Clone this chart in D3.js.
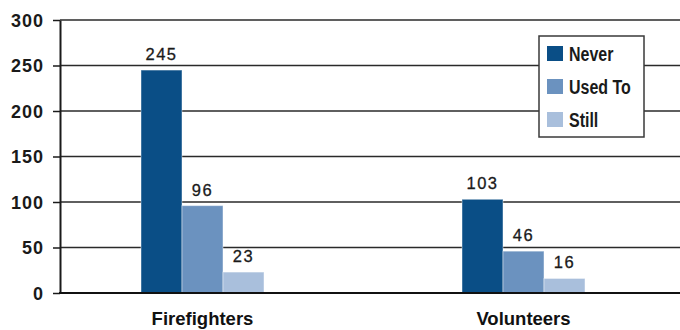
<!DOCTYPE html>
<html>
<head>
<meta charset="utf-8">
<script src="https://cdn.jsdelivr.net/npm/d3@7"></script>
<style>
  html, body { margin: 0; padding: 0; background: #fff; }
  svg { display: block; }
  .tick-label { font-family: "Liberation Sans", Arial, sans-serif; font-weight: 700; font-size: 18px; letter-spacing: 1px; fill: #1a1a1a; }
  .value-label { font-family: "Liberation Sans", Arial, sans-serif; font-size: 16.5px; letter-spacing: 1.5px; fill: #1a1a1a; stroke: #1a1a1a; stroke-width: 0.3px; }
  .cat-label { font-family: "Liberation Sans", Arial, sans-serif; font-weight: 700; font-size: 18.5px; fill: #111; }
  .legend-label { font-family: "Liberation Sans", Arial, sans-serif; font-weight: 700; font-size: 19.5px; fill: #1a1a1a; }
</style>
</head>
<body>
<svg id="chart" width="680" height="330"></svg>
<script>
// Smoking status counts by group
const categories = ["Firefighters", "Volunteers"];
const seriesNames = ["Never", "Used To", "Still"];
const never = [245, 103];
const usedTo = [96, 46];
const still = [23, 16];
const yTicks = [0, 50, 100, 150, 200, 250, 300];

const seriesValues = [never, usedTo, still];
const colors = ["#0a4e86", "#6b92bf", "#a9bfdc"];

const svg = d3.select("#chart");
const W = 680;
const axisX = 60;

const y = d3.scaleLinear().domain([0, 300]).range([293, 20]);

const x0 = d3.scaleBand().domain(categories).range([42, 684]).padding(0);
const groupW = 123;
const x1 = d3.scaleBand().domain(seriesNames).range([0, groupW]).padding(0);

// gridlines
svg.append("g")
  .selectAll("line")
  .data(yTicks.filter(d => d !== 0))
  .join("line")
  .attr("x1", axisX).attr("x2", W)
  .attr("y1", d => y(d)).attr("y2", d => y(d))
  .attr("stroke", "#2a2a2a").attr("stroke-width", 1.5);

// y axis
const yAxis = d3.axisLeft(y).tickValues(yTicks).tickSize(7).tickPadding(9).tickSizeOuter(0);
const ya = svg.append("g").attr("transform", `translate(${axisX},0)`).call(yAxis);
ya.select(".domain").attr("stroke", "#1a1a1a").attr("stroke-width", 2);
ya.selectAll(".tick line").attr("stroke", "#1a1a1a").attr("stroke-width", 1.5);
ya.selectAll(".tick text").attr("class", "tick-label").attr("dy", "0.36em");

// bars
const groups = svg.append("g")
  .selectAll("g")
  .data(categories)
  .join("g")
  .attr("transform", d => `translate(${x0(d) + (x0.bandwidth() - groupW) / 2},0)`);

groups.selectAll("rect")
  .data((c, ci) => seriesNames.map((s, si) => ({ s, si, v: seriesValues[si][ci] })))
  .join("rect")
  .attr("x", d => x1(d.s))
  .attr("y", d => y(d.v))
  .attr("width", x1.bandwidth())
  .attr("height", d => y(0) - y(d.v))
  .attr("fill", d => colors[d.si])
  .attr("stroke", "rgba(255,255,255,0.45)")
  .attr("stroke-width", 1);

groups.selectAll("text")
  .data((c, ci) => seriesNames.map((s, si) => ({ s, si, v: seriesValues[si][ci] })))
  .join("text")
  .attr("class", "value-label")
  .attr("x", d => x1(d.s) + x1.bandwidth() / 2)
  .attr("y", d => y(d.v) - 10)
  .attr("text-anchor", "middle")
  .text(d => d.v);

// zero baseline
svg.append("line")
  .attr("x1", axisX - 1).attr("x2", W)
  .attr("y1", y(0)).attr("y2", y(0))
  .attr("stroke", "#111").attr("stroke-width", 2.2);

// category labels
svg.append("g")
  .selectAll("text")
  .data(categories)
  .join("text")
  .attr("class", "cat-label")
  .attr("x", d => x0(d) + x0.bandwidth() / 2)
  .attr("y", 325)
  .attr("text-anchor", "middle")
  .text(d => d);

// legend
const legend = svg.append("g").attr("transform", "translate(539,36)");
legend.append("rect")
  .attr("width", 105).attr("height", 101)
  .attr("fill", "#fff").attr("stroke", "#3a3a3a").attr("stroke-width", 1.5);
const items = legend.selectAll("g.item")
  .data(seriesNames)
  .join("g")
  .attr("class", "item")
  .attr("transform", (d, i) => `translate(8,${10 + i * 33})`);
items.append("rect")
  .attr("width", 16).attr("height", 15)
  .attr("fill", (d, i) => colors[i]);
// condensed bold labels
items.append("text")
  .attr("class", "legend-label")
  .attr("transform", "translate(22,14.5) scale(0.82,1)")
  .text(d => d);
</script>
</body>
</html>
